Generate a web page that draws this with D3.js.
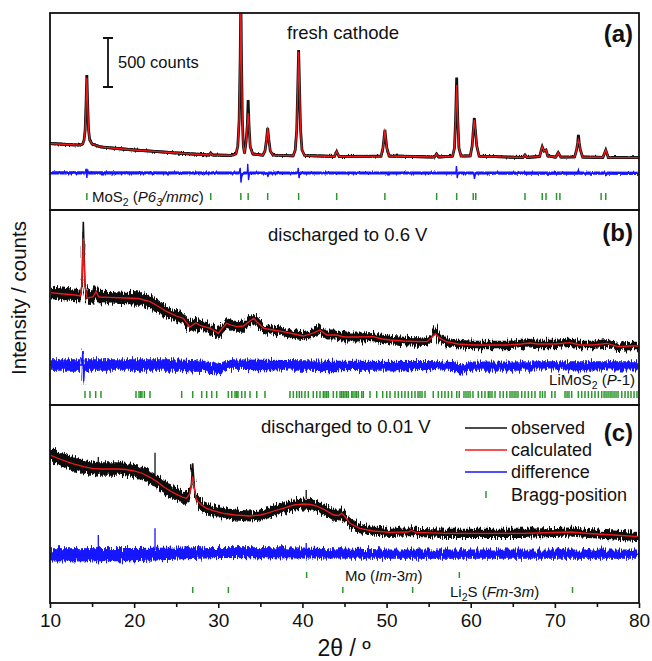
<!DOCTYPE html>
<html>
<head>
<meta charset="utf-8">
<script src="https://cdn.jsdelivr.net/npm/d3@7"></script>
<style>
  body { margin: 0; background: #fff; }
  svg { display: block; font-family: Arial, "Liberation Sans", sans-serif; }
</style>
</head>
<body>
<svg id="chart" width="652" height="661"></svg>
<script>
// ============================================================
// DATA  (2theta in degrees, intensity in counts above panel floor)
// ============================================================
const majorTicks = [10, 20, 30, 40, 50, 60, 70, 80];
const minorTicks = [15, 25, 35, 45, 55, 65, 75];

// (a) fresh cathode
const calcA = [
  [10.0, 665], [12.0, 655], [13.6, 648], [13.9, 662], [14.05, 700], [14.18, 800], [14.28, 1050],
  [14.38, 1320], [14.48, 1050], [14.58, 800], [14.72, 700], [15.0, 660], [16.0, 632], [18.0, 615],
  [20.0, 600], [22.0, 588], [25.0, 570], [27.0, 560], [28.9, 550], [29.1, 570], [29.3, 550],
  [31.5, 545], [32.1, 560], [32.32, 640], [32.48, 900], [32.6, 1500], [32.68, 2150], [32.76, 1500],
  [32.86, 900], [32.98, 640], [33.12, 565], [33.3, 680], [33.45, 850], [33.55, 970], [33.65, 850],
  [33.8, 630], [34.1, 560], [35.3, 548], [35.55, 590], [35.73, 700], [35.87, 820], [36.01, 700],
  [36.18, 590], [36.5, 548], [38.9, 542], [39.15, 600], [39.32, 800], [39.44, 1200], [39.55, 1580],
  [39.66, 1200], [39.78, 800], [39.95, 600], [40.25, 545], [43.8, 535], [44.07, 585], [44.35, 535],
  [49.35, 538], [49.57, 620], [49.7, 720], [49.8, 800], [49.9, 720], [50.03, 620], [50.3, 540],
  [55.7, 530], [55.95, 560], [56.2, 530], [57.85, 538], [58.07, 620], [58.2, 900], [58.33, 1250],
  [58.46, 900], [58.6, 620], [58.85, 540], [59.95, 542], [60.17, 640], [60.31, 800], [60.43, 900],
  [60.55, 800], [60.72, 640], [61.0, 538], [66.2, 525], [66.45, 550], [66.7, 525], [68.2, 535],
  [68.38, 600], [68.5, 633], [68.7, 590], [68.95, 600], [69.15, 540], [70.1, 528], [70.4, 573],
  [70.7, 528], [72.35, 532], [72.58, 600], [72.71, 670], [72.8, 700], [72.9, 670], [73.03, 600],
  [73.3, 530], [75.7, 525], [76.05, 600], [76.35, 525], [80.0, 523]
];
const obsTopsA = [[14.38, 1350], [33.55, 1100], [39.55, 1600], [58.33, 1325], [60.43, 920], [72.8, 750]];
const obsAmpA = [[10, 14]];
const diffA = [
  [10, 372], [14.2, 372], [14.3, 410], [14.38, 320], [14.46, 405], [14.55, 372], [32.5, 370],
  [32.6, 420], [32.7, 275], [32.8, 345], [33.0, 370], [33.45, 370], [33.5, 460], [33.6, 300],
  [33.7, 370], [35.8, 370], [35.9, 335], [36.0, 370], [39.45, 370], [39.5, 420], [39.6, 320],
  [39.7, 370], [58.25, 370], [58.3, 440], [58.4, 320], [58.5, 370], [60.35, 370], [60.45, 310],
  [60.55, 370], [72.7, 368], [72.8, 400], [72.9, 368], [76.0, 368], [76.05, 340], [76.1, 368], [80, 367]
];
const diffAmpA = [[10, 16]];
const braggA = [14.38, 29.1, 32.68, 33.55, 35.87, 39.55, 44.07, 49.8, 55.95, 58.33, 60.3, 60.6,
  66.45, 68.5, 68.95, 70.2, 70.6, 75.5, 76.05];

// (b) discharged to 0.6 V
const calcB = [
  [10.0, 1123], [11.0, 1115], [13.0, 1100], [13.6, 1090], [13.8, 1200], [13.96, 1667], [14.15, 1200],
  [14.4, 1070], [15.1, 1080], [15.47, 1133], [15.8, 1080], [17.0, 1077], [19.0, 1070], [20.5, 1065],
  [21.9, 1033], [22.8, 990], [23.9, 933], [25.0, 890], [25.85, 867], [26.6, 780], [27.3, 820],
  [28.0, 790], [29.0, 770], [29.6, 740], [30.0, 717], [30.5, 770], [31.0, 817], [31.5, 800],
  [32.2, 783], [33.0, 790], [33.6, 830], [34.2, 867], [34.6, 830], [35.4, 767], [36.5, 750],
  [37.7, 733], [39.0, 710], [40.1, 690], [41.3, 720], [42.1, 750], [42.9, 700], [44.0, 700],
  [45.0, 680], [46.5, 680], [48.4, 683], [49.5, 660], [50.4, 650], [52.0, 640], [53.5, 635],
  [54.8, 633], [55.3, 670], [55.8, 710], [56.3, 670], [57.1, 633], [58.5, 610], [60.3, 600],
  [62.0, 600], [64.3, 600], [66.0, 610], [67.0, 620], [68.0, 610], [70.0, 610], [71.8, 623],
  [73.0, 600], [74.5, 600], [76.2, 617], [77.5, 583], [79.0, 590], [80.0, 590]
];
const obsTopsB = [[13.96, 1833], [55.8, 750]];
const obsAmpB = [[10, 62], [25, 54], [35, 46], [50, 42]];
const diffB = [
  [10, 400], [13.8, 400], [13.9, 540], [14.0, 235], [14.1, 400], [25, 400], [28.5, 385], [30, 350],
  [31.5, 405], [40, 395], [44, 390], [55, 395], [58, 385], [58.9, 357], [60, 388], [70, 392], [80, 392]
];
const diffAmpB = [[10, 58], [30, 52], [50, 46]];
const braggB = [14.16, 14.75, 15.43, 16.06, 20.22, 20.58, 20.78, 20.93, 21.21, 21.88, 25.65, 26.96,
  28.03, 28.62, 29.22, 29.81, 31.19, 31.6, 31.99, 32.19, 32.34, 32.78, 33.18, 33.77, 34.57, 35.55,
  38.52, 38.92, 39.32, 39.63, 39.91, 40.31, 40.7, 41.29, 41.7, 42.09, 42.48, 42.68, 42.89, 43.08,
  43.67, 44.07, 44.47, 44.67, 44.86, 45.06, 45.26, 45.45, 45.86, 46.01, 46.25, 46.43, 46.64, 47.05,
  47.24, 48.03, 48.83, 49.54, 50.02, 50.41, 51.0, 51.4, 51.8, 52.19, 52.58, 52.99, 53.38, 53.74,
  53.97, 54.21, 54.57, 55.55, 56.15, 56.55, 56.94, 57.34, 57.74, 58.34, 58.64, 59.2, 59.44, 59.68,
  59.92, 60.27, 60.9, 61.31, 61.7, 62.09, 62.29, 62.53, 62.89, 63.48, 63.87, 64.28, 64.67, 64.91,
  65.15, 65.38, 65.62, 66.06, 66.45, 66.85, 67.25, 67.64, 68.24, 68.53, 68.83, 69.63, 70.02, 71.21,
  71.45, 71.68, 72.0, 72.79, 73.19, 73.58, 73.98, 74.38, 74.77, 75.17, 75.57, 75.85, 76.08, 76.32,
  76.56, 76.79, 77.03, 77.27, 77.51, 77.95, 78.34, 78.7, 79.05, 79.41, 79.76];

// (c) discharged to 0.01 V
const calcC = [
  [10.0, 1480], [11.0, 1445], [12.0, 1413], [13.0, 1385], [14.0, 1363], [15.0, 1347], [16.0, 1340],
  [18.0, 1340], [19.0, 1335], [20.0, 1320], [21.0, 1295], [21.9, 1257], [22.7, 1215], [23.5, 1163],
  [24.3, 1120], [25.05, 1087], [25.7, 1060], [26.2, 1047], [26.6, 1090], [26.8, 1180], [26.96, 1263],
  [27.15, 1150], [27.4, 1030], [28.0, 980], [28.6, 947], [29.5, 920], [30.6, 897], [32.0, 880],
  [33.8, 870], [35.0, 880], [35.75, 897], [36.8, 925], [37.7, 947], [39.0, 980], [40.1, 990],
  [41.0, 985], [41.7, 970], [42.7, 930], [43.7, 880], [44.3, 875], [44.67, 897], [45.0, 870],
  [45.65, 797], [46.8, 747], [48.4, 720], [50.4, 707], [52.5, 710], [53.0, 725], [53.5, 705],
  [54.4, 703], [57.0, 697], [60.3, 697], [66.2, 697], [70.0, 705], [71.8, 710], [74.0, 695],
  [77.0, 680], [80.0, 663]
];
const obsTopsC = [[26.96, 1397]];
const obsAmpC = [[10, 68], [28, 55], [46, 46]];
const obsSpikesC = [[15.74, 1380, 1460], [22.48, 1270, 1503], [40.45, 1040, 1130]];
const diffC = [[10, 482], [20, 484], [30, 505], [40, 500], [50, 488], [80, 488]];
const diffAmpC = [[10, 66], [28, 56], [42, 46]];
const diffSpikesC = [[15.74, 530, 680], [22.48, 530, 747], [40.45, 530, 600]];
const braggMo = [40.5, 58.65];
const braggLi2S = [26.96, 31.2, 44.8, 53.1, 72.1];

const legendItems = ['observed', 'calculated', 'difference', 'Bragg-position'];

// ============================================================
// LAYOUT
// ============================================================
const COL = { obs: '#111', calc: '#f01818', diff: '#1414ff', bragg: '#2a982a' };
const svg = d3.select('#chart');
const x = d3.scaleLinear().domain([10, 80]).range([50, 639]);

const defs = svg.append('defs');
function roughFilter(id, scale, freq) {
  const f = defs.append('filter').attr('id', id)
    .attr('filterUnits', 'userSpaceOnUse')
    .attr('x', 0).attr('y', 0).attr('width', 652).attr('height', 661);
  f.append('feTurbulence').attr('type', 'fractalNoise').attr('baseFrequency', freq)
    .attr('numOctaves', 2).attr('seed', 4).attr('result', 'n');
  f.append('feDisplacementMap').attr('in', 'SourceGraphic').attr('in2', 'n')
    .attr('scale', scale).attr('xChannelSelector', 'R').attr('yChannelSelector', 'G');
}
roughFilter('roughS', 3, '0.9 0.1');
roughFilter('roughL', 11, '0.8 0.05');

function stepAmp(steps, t) {
  let a = steps[0][1];
  for (const [x0, v] of steps) if (t >= x0) a = v;
  return a;
}

function withTops(pts, tops) {
  return pts.map(p => {
    const t = tops.find(d => d[0] === p[0]);
    return t ? [p[0], t[1]] : p;
  });
}

const panels = [
  { key: 'a', top: 13, bottom: 210, calc: calcA, obs: withTops(calcA, obsTopsA), obsAmp: obsAmpA,
    diff: diffA, diffAmp: diffAmpA, rough: 'roughS' },
  { key: 'b', top: 210, bottom: 405, calc: calcB, obs: withTops(calcB, obsTopsB), obsAmp: obsAmpB,
    diff: diffB, diffAmp: diffAmpB, rough: 'roughL' },
  { key: 'c', top: 405, bottom: 603, calc: calcC, obs: withTops(calcC, obsTopsC), obsAmp: obsAmpC,
    diff: diffC, diffAmp: diffAmpC, rough: 'roughL' }
];

panels.forEach(p => {
  p.y = d3.scaleLinear().domain([0, (p.bottom - p.top) * 10]).range([p.bottom, p.top]);
  defs.append('clipPath').attr('id', 'clip-' + p.key)
    .append('rect').attr('x', x(10)).attr('y', p.top).attr('width', x(80) - x(10)).attr('height', p.bottom - p.top);

  const g = svg.append('g').attr('clip-path', `url(#clip-${p.key})`);
  const band = amp => d3.area()
    .x(d => x(d[0]))
    .y0(d => p.y(d[1] - stepAmp(amp, d[0])))
    .y1(d => p.y(d[1] + stepAmp(amp, d[0])));
  const line = d3.line().x(d => x(d[0])).y(d => p.y(d[1]));

  // difference
  g.append('path').datum(p.diff).attr('d', band(p.diffAmp))
    .attr('fill', COL.diff).attr('filter', `url(#${p.rough})`);
  g.append('path').datum(p.diff).attr('d', line)
    .attr('fill', 'none').attr('stroke', COL.diff).attr('stroke-width', 1.4);

  // observed
  g.append('path').datum(p.obs).attr('d', band(p.obsAmp))
    .attr('fill', COL.obs).attr('filter', `url(#${p.rough})`);
  g.append('path').datum(p.obs).attr('d', line)
    .attr('fill', 'none').attr('stroke', COL.obs).attr('stroke-width', p.key === 'a' ? 2.8 : 1.6);

  // calculated
  g.append('path').datum(p.calc).attr('d', line)
    .attr('fill', 'none').attr('stroke', COL.calc).attr('stroke-width', 1.3);
});

// spikes in panel (c)
const pc = panels[2];
svg.append('g').selectAll('line').data(obsSpikesC).join('line')
  .attr('x1', d => x(d[0])).attr('x2', d => x(d[0]))
  .attr('y1', d => pc.y(d[1])).attr('y2', d => pc.y(d[2]))
  .attr('stroke', COL.obs).attr('stroke-width', 1.3);
svg.append('g').selectAll('line').data(diffSpikesC).join('line')
  .attr('x1', d => x(d[0])).attr('x2', d => x(d[0]))
  .attr('y1', d => pc.y(d[1])).attr('y2', d => pc.y(d[2]))
  .attr('stroke', COL.diff).attr('stroke-width', 1.3);

// ============================================================
// BRAGG TICKS
// ============================================================
function braggRow(list, y0, y1) {
  svg.append('g').selectAll('line').data(list).join('line')
    .attr('x1', d => x(d)).attr('x2', d => x(d))
    .attr('y1', y0).attr('y2', y1)
    .attr('stroke', COL.bragg).attr('stroke-width', 1.5);
}
braggRow(braggA, 193, 200);
braggRow(braggB, 391, 398);
braggRow(braggMo, 572, 578);
braggRow(braggLi2S, 587, 593);

// ============================================================
// FRAMES + AXIS
// ============================================================
panels.forEach(p => {
  svg.append('rect').attr('x', x(10)).attr('y', p.top)
    .attr('width', x(80) - x(10)).attr('height', p.bottom - p.top)
    .attr('fill', 'none').attr('stroke', '#111').attr('stroke-width', 1.8);
});

const axG = svg.append('g').attr('transform', `translate(0,${panels[2].bottom})`);
axG.call(d3.axisBottom(x).tickValues(majorTicks).tickSize(5).tickPadding(6));
axG.append('g').call(d3.axisBottom(x).tickValues(minorTicks).tickSize(4).tickFormat(''));
axG.selectAll('.domain').remove();
axG.selectAll('line').attr('stroke', '#111').attr('stroke-width', 1.6);
axG.selectAll('text').attr('font-size', 19).attr('fill', '#111')
  .attr('font-family', 'Arial, "Liberation Sans", sans-serif');

svg.append('text').attr('x', 344).attr('y', 656).attr('text-anchor', 'middle')
  .attr('font-size', 23).attr('fill', '#111').text('2θ / º');
svg.append('text').attr('transform', 'translate(26,298) rotate(-90)').attr('text-anchor', 'middle')
  .attr('font-size', 20.5).attr('fill', '#111').text('Intensity / counts');

// ============================================================
// LABELS
// ============================================================
function rich(xp, yp, parts, size, anchor) {
  const t = svg.append('text').attr('x', xp).attr('y', yp).attr('font-size', size)
    .attr('fill', '#111').attr('text-anchor', anchor || 'start');
  let shifted = 0;
  parts.forEach(([s, style]) => {
    const sub = style && style.includes('sub');
    const ts = t.append('tspan').text(s);
    const dy = (sub ? 4 : 0) - shifted;
    if (dy) ts.attr('dy', dy);
    shifted = sub ? 4 : 0;
    if (sub) ts.attr('font-size', size * 0.7);
    if (style && style.includes('i')) ts.attr('font-style', 'italic');
  });
  return t;
}

const title = (xp, yp, s) => svg.append('text').attr('x', xp).attr('y', yp)
  .attr('font-size', 18.5).attr('fill', '#111').text(s);
title(287, 39, 'fresh cathode');
title(268, 241, 'discharged to 0.6 V');
title(261, 433, 'discharged to 0.01 V');

['(a)', '(b)', '(c)'].forEach((s, i) => {
  svg.append('text').attr('x', 633).attr('y', [42, 241, 441][i]).attr('text-anchor', 'end')
    .attr('font-size', 24).attr('font-weight', 'bold').attr('fill', '#111').text(s);
});

// scale bar
svg.append('path').attr('d', 'M103,38H113M108,38V87M103,87H113')
  .attr('stroke', '#111').attr('stroke-width', 1.8).attr('fill', 'none');
svg.append('text').attr('x', 118).attr('y', 68).attr('font-size', 16.5).attr('fill', '#111').text('500 counts');

rich(92, 202, [['MoS'], ['2', 'sub'], [' ('], ['P6', 'i'], ['3', 'sub i'], ['/', 'i'], ['mmc', 'i'], [')']], 15);
rich(635, 385, [['LiMoS'], ['2', 'sub'], [' ('], ['P', 'i'], ['-1)']], 15, 'end');
rich(345, 581, [['Mo ('], ['Im', 'i'], ['-3'], ['m', 'i'], [')']], 15);
rich(450, 597, [['Li'], ['2', 'sub'], ['S ('], ['Fm', 'i'], ['-3'], ['m', 'i'], [')']], 15);

// legend
const legY = [428, 450, 472, 495];
const lg = svg.append('g');
legendItems.forEach((s, i) => {
  if (i < 3) {
    lg.append('line').attr('x1', 465).attr('x2', 507).attr('y1', legY[i]).attr('y2', legY[i])
      .attr('stroke', [COL.obs, COL.calc, COL.diff][i]).attr('stroke-width', 1.5);
  } else {
    lg.append('line').attr('x1', 486).attr('x2', 486).attr('y1', legY[i] - 4).attr('y2', legY[i] + 3)
      .attr('stroke', COL.bragg).attr('stroke-width', 1.5);
  }
  lg.append('text').attr('x', 511).attr('y', legY[i] + 6).attr('font-size', 18)
    .attr('fill', '#111').text(s);
});
</script>
</body>
</html>
